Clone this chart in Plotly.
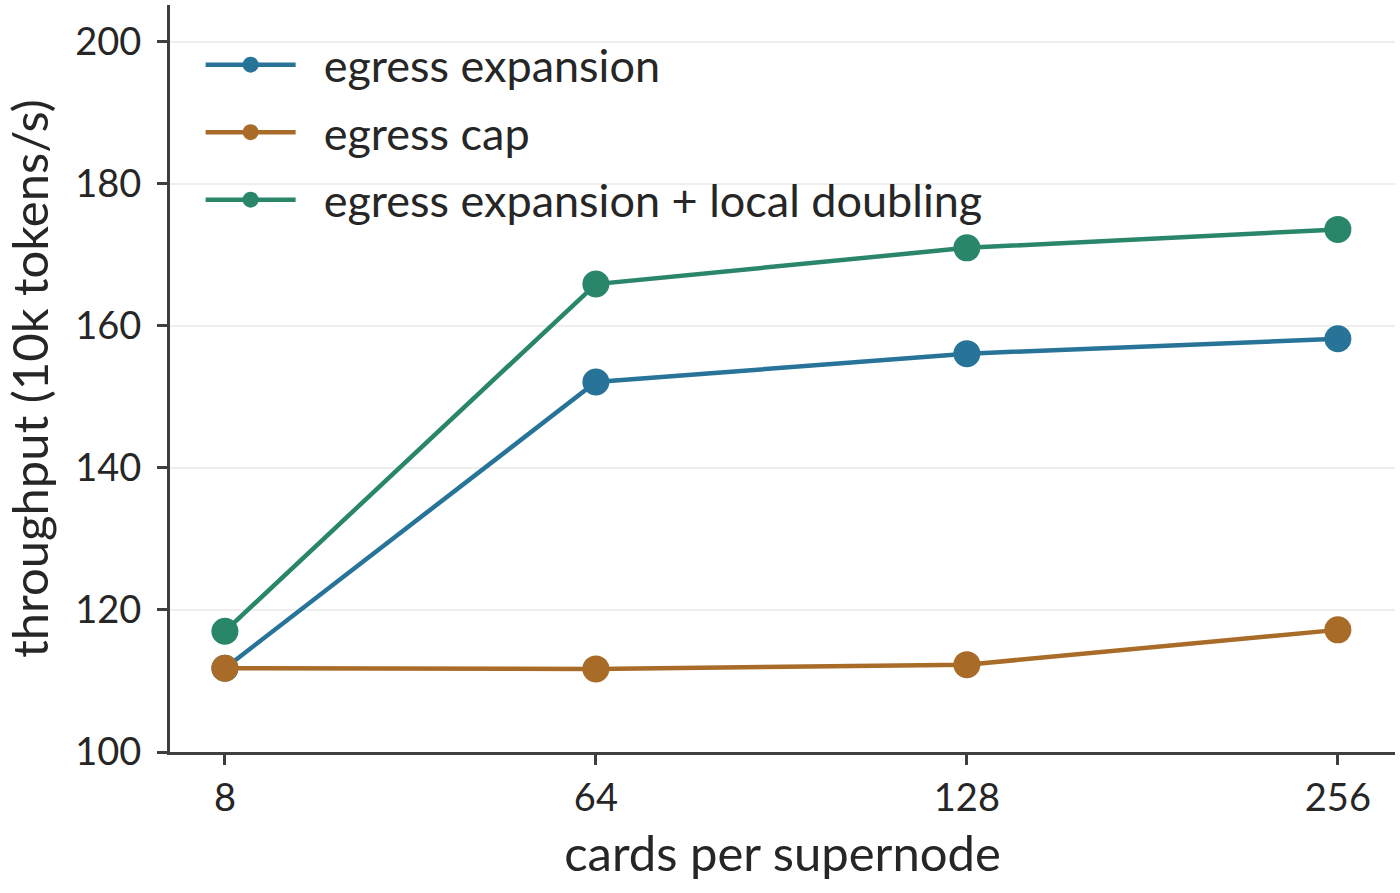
import plotly.graph_objects as go

cards = ["8", "64", "128", "256"]
egress_expansion = [111.8, 152.1, 156.1, 158.2]
egress_cap = [111.8, 111.7, 112.3, 117.2]
expansion_local_doubling = [117.0, 165.9, 171.0, 173.6]

series = [
    ("egress expansion", egress_expansion, "#277498"),
    ("egress cap", egress_cap, "#a96b28"),
    ("egress expansion + local doubling", expansion_local_doubling, "#29866a"),
]

fig = go.Figure()
for name, vals, col in series:
    fig.add_trace(go.Scatter(
        x=cards, y=vals, name="\u00a0\u00a0" + name, mode="lines+markers",
        legendgroup=name,
        line=dict(color=col, width=4.5),
        marker=dict(color=col, size=27),
    ))

axis_common = dict(
    showline=True, linecolor="#3f3f3f", linewidth=3,
    ticks="outside", ticklen=10, tickwidth=3, tickcolor="#3f3f3f",
    tickfont=dict(size=38, color="#262626"),
    zeroline=False,
)

fig.update_layout(
    width=1400, height=893,
    margin=dict(l=170, r=5, t=5, b=141),
    paper_bgcolor="white", plot_bgcolor="white",
    font=dict(family="Lato, Noto Sans, sans-serif", size=38, color="#262626"),
    legend=dict(x=0.025, y=0.968, xanchor="left", yanchor="top",
                bgcolor="rgba(0,0,0,0)", font=dict(size=45),
                tracegroupgap=6, itemwidth=90),
    showlegend=True,
)
fig.update_xaxes(
    type="category", range=[-0.148, 3.154], showgrid=False,
    title=dict(text="cards per supernode", font=dict(size=49), standoff=20),
    **axis_common,
)
fig.update_yaxes(
    range=[100, 205.2], tickvals=[100, 120, 140, 160, 180, 200],
    showgrid=True, gridcolor="#eeeeee", gridwidth=2,
    ticklabelstandoff=8,
    title=dict(text="throughput (10k tokens/s)", font=dict(size=49), standoff=12),
    **axis_common,
)

fig.write_html("out.html", config={"displayModeBar": False},
               post_script="document.body.style.margin='0';")
